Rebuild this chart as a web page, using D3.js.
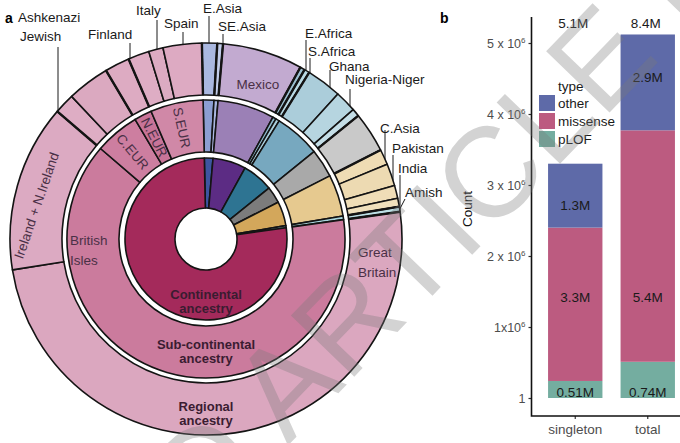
<!DOCTYPE html>
<html>
<head>
<meta charset="utf-8">
<script src="https://cdn.jsdelivr.net/npm/d3@7"></script>
<style>
  body { margin: 0; background: #fff; }
  svg { display: block; font-family: "Liberation Sans", Arial, sans-serif; }
</style>
</head>
<body>
<svg id="chart" width="680" height="443"></svg>
<script>
// ---- panel a: ancestry sunburst, shares are % of the circle ----
let continents = ['E.Asia', 'America', 'Africa', 'C.Asia', 'S.Asia', 'Amish', 'Europe'];

let subContinents = ['E.Asia', 'SE.Asia', 'America', 'E.Africa', 'S.Africa', 'W.Africa',
    'C.Asia', 'S.Asia', 'Amish', 'British Isles', 'C.EUR', 'N.EUR', 'S.EUR'];
let subContinentOf = ['E.Asia', 'E.Asia', 'America', 'Africa', 'Africa', 'Africa',
    'C.Asia', 'S.Asia', 'Amish', 'Europe', 'Europe', 'Europe', 'Europe'];

let regions = ['E.Asia', 'SE.Asia', 'Mexico', 'E.Africa', 'S.Africa', 'Ghana', 'Nigeria-Niger',
    'W.Africa (other)', 'C.Asia', 'Pakistan', 'India', 'Bangladesh', 'Sri Lanka', 'Amish',
    'Great Britain', 'Ireland + N.Ireland', 'Ashkenazi Jewish', 'C.EUR (other)', 'Finland',
    'S.EUR (other)', 'Italy', 'Spain'];
let regionOf = ['E.Asia', 'SE.Asia', 'America', 'E.Africa', 'S.Africa', 'W.Africa', 'W.Africa',
    'W.Africa', 'C.Asia', 'S.Asia', 'S.Asia', 'S.Asia', 'S.Asia', 'Amish',
    'British Isles', 'British Isles', 'C.EUR', 'C.EUR', 'N.EUR',
    'S.EUR', 'S.EUR', 'S.EUR'];
let regionShare = [1.25, 0.47, 6.61, 0.39, 0.44, 2.92, 1.78,
    0.64, 3.33, 1.28, 1.83, 1.06, 0.69, 0.42,
    49.7, 13.8, 1.69, 3.5, 2.06,
    1.75, 1.19, 3.19];

// ---- panel b: stacked counts ----
let barGroups = ['singleton', 'total'];
let variantTypes = ['pLOF', 'missense', 'other'];      // bottom -> top
let pLOFHeight = [0.24e6, 0.51e6];
let missenseHeight = [2.16e6, 3.26e6];
let otherHeight = [0.90e6, 1.35e6];
let pLOFText = ['0.51M', '0.74M'];
let missenseText = ['3.3M', '5.4M'];
let otherText = ['1.3M', '2.9M'];
let totalText = ['5.1M', '8.4M'];
let pLOFTextAt = [0.08e6, 0.08e6];
let missenseTextAt = [1.42e6, 1.42e6];
let otherTextAt = [2.71e6, 4.52e6];
let yTicks = [0, 1e6, 2e6, 3e6, 4e6, 5e6];
let yTickBase = ['1', '1x10', '2 x 10', '3 x 10', '4 x 10', '5 x 10'];

let svg = d3.select('#chart');

// ================= panel a =================
let center = [206, 239];
let ringR = [null, [31, 81], [87, 139], [144, 196]];
let startDeg = -1.2;

let fills = {
    1: { 'E.Asia': '#3d55a0', 'America': '#5c2c84', 'Africa': '#2e7492', 'C.Asia': '#7c7c7c',
         'S.Asia': '#d3a75b', 'Amish': '#8ec8d3', 'Europe': '#a42a5b' },
    2: { 'E.Asia': '#8c9ed2', 'SE.Asia': '#a9b6df', 'America': '#9b80b6', 'E.Africa': '#8db8ca',
         'S.Africa': '#aacfdc', 'W.Africa': '#77a8bf', 'C.Asia': '#a9a9a9', 'S.Asia': '#e6c98f',
         'Amish': '#a9d6de', 'British Isles': '#cb7b9d', 'C.EUR': '#cd7ea0', 'N.EUR': '#c87498',
         'S.EUR': '#d088a7' },
    3: { 'E.Asia': '#aab8e0', 'SE.Asia': '#c3cdea', 'Mexico': '#c2aad0', 'E.Africa': '#9cc0d0',
         'S.Africa': '#b9d9e3', 'Ghana': '#abcdda', 'Nigeria-Niger': '#b6d5e0',
         'W.Africa (other)': '#c4dee7', 'C.Asia': '#c9c9c9', 'Pakistan': '#efdcb4',
         'India': '#eddab2', 'Bangladesh': '#efddb7', 'Sri Lanka': '#f0e0bc', 'Amish': '#bde0e6',
         'Great Britain': '#dba7bf', 'Ireland + N.Ireland': '#dcaac2', 'Ashkenazi Jewish': '#deadc4',
         'C.EUR (other)': '#dba9c0', 'Finland': '#ddabc2', 'S.EUR (other)': '#deadc4',
         'Italy': '#dcabc2', 'Spain': '#ddaac2' }
};

// build the hierarchy from the flat arrays
let tree = { name: 'root', children: continents.map(c => ({ name: c, children: [] })) };
subContinents.forEach((s, i) => {
    tree.children.find(c => c.name === subContinentOf[i]).children.push({ name: s, children: [] });
});
regions.forEach((r, i) => {
    let subs = [].concat(...tree.children.map(c => c.children));
    subs.find(s => s.name === regionOf[i]).children.push({ name: r, value: regionShare[i] });
});

let root = d3.partition().size([2 * Math.PI, 4])(
    d3.hierarchy(tree).sum(d => d.value || 0));
let rot = startDeg * Math.PI / 180;

let arc = d3.arc()
    .startAngle(d => d.x0 + rot)
    .endAngle(d => d.x1 + rot)
    .innerRadius(d => ringR[d.depth][0])
    .outerRadius(d => ringR[d.depth][1]);

let sun = svg.append('g').attr('transform', `translate(${center})`);
sun.selectAll('path')
    .data(root.descendants().filter(d => d.depth > 0))
    .join('path')
        .attr('d', arc)
        .attr('fill', d => fills[d.depth][d.data.name])
        .attr('stroke', '#141414')
        .attr('stroke-width', 1.6)
        .attr('stroke-linejoin', 'round');

let polar = (a, r) => [r * Math.sin(a), -r * Math.cos(a)];

// sub-continent borders look heavier where they cross the outer ring
sun.selectAll('line.border')
    .data(root.descendants().filter(d => d.depth === 2))
    .join('line')
        .attr('class', 'border')
        .attr('x1', d => polar(d.x0 + rot, ringR[3][0])[0])
        .attr('y1', d => polar(d.x0 + rot, ringR[3][0])[1])
        .attr('x2', d => polar(d.x0 + rot, ringR[3][1])[0])
        .attr('y2', d => polar(d.x0 + rot, ringR[3][1])[1])
        .attr('stroke', '#141414')
        .attr('stroke-width', 2.4);

let node = (depth, name) => root.descendants().find(d => d.depth === depth && d.data.name === name);
let midAngle = d => (d.x0 + d.x1) / 2 + rot;

// labels inside the rings
let inRing = [
    { lines: ['British', 'Isles'], x: 70, y: 245, anchor: 'start' },
    { lines: ['Great', 'Britain'], x: 358, y: 257, anchor: 'start' },
    { lines: ['Mexico'], x: 258, y: 89, anchor: 'middle' },
];
inRing.forEach(l => {
    let t = svg.append('text')
        .attr('x', l.x).attr('y', l.y)
        .attr('text-anchor', l.anchor)
        .attr('font-size', 13.5)
        .attr('fill', '#4a3046');
    l.lines.forEach((s, i) => t.append('tspan').attr('x', l.x).attr('dy', i ? 20 : 0).text(s));
});

svg.append('text')
    .attr('transform', `translate(41,207) rotate(-71)`)
    .attr('text-anchor', 'middle')
    .attr('font-size', 13.5)
    .attr('fill', '#4a3046')
    .text('Ireland + N.Ireland');

['C.EUR', 'N.EUR', 'S.EUR'].forEach(name => {
    let d = node(2, name);
    let a = midAngle(d);
    let p = polar(a, 114);
    sun.append('text')
        .attr('transform', `translate(${p}) rotate(${a * 180 / Math.PI - 270})`)
        .attr('text-anchor', 'middle')
        .attr('dy', '0.35em')
        .attr('font-size', 13.5)
        .attr('fill', '#4a3046')
        .text(name);
});

// ring titles
let ringTitles = [
    { lines: ['Continental', 'ancestry'], y: 299 },
    { lines: ['Sub-continental', 'ancestry'], y: 349 },
    { lines: ['Regional', 'ancestry'], y: 411 },
];
ringTitles.forEach(l => {
    let t = svg.append('text')
        .attr('x', center[0]).attr('y', l.y)
        .attr('text-anchor', 'middle')
        .attr('font-size', 13)
        .attr('font-weight', 'bold')
        .attr('fill', '#3a1c31');
    l.lines.forEach((s, i) => t.append('tspan').attr('x', center[0]).attr('dy', i ? 14 : 0).text(s));
});

// outside labels with vertical leaders down to the ring
let outLabels = [
    { region: 'Ashkenazi Jewish', lines: ['Ashkenazi', 'Jewish'], x: 18, y: 22, lx: 58, ly: 47, lineGap: 19, xs: [18, 20] },
    { region: 'Finland', lines: ['Finland'], x: 88, y: 39, lx: 130, ly: 43 },
    { region: 'Italy', lines: ['Italy'], x: 136, y: 15, lx: 157, ly: 20 },
    { region: 'Spain', lines: ['Spain'], x: 164, y: 28, lx: 183, ly: 32 },
    { region: 'E.Asia', lines: ['E.Asia'], x: 203, y: 13, lx: 209, ly: 16 },
    { region: 'SE.Asia', lines: ['SE.Asia'], x: 218, y: 31, lx: 223, ly: 34 },
    { region: 'E.Africa', lines: ['E.Africa'], x: 305, y: 38, lx: 306, ly: 40 },
    { region: 'S.Africa', lines: ['S.Africa'], x: 308, y: 56, lx: 310, ly: 58 },
    { region: 'Ghana', lines: ['Ghana'], x: 329, y: 71, lx: 330, ly: 70 },
    { region: 'Nigeria-Niger', lines: ['Nigeria-Niger'], x: 345, y: 84, lx: 350, ly: 89 },
    { region: 'C.Asia', lines: ['C.Asia'], x: 380, y: 133, lx: 385, ly: 130 },
    { region: 'Pakistan', lines: ['Pakistan'], x: 392, y: 153, lx: 393, ly: 155 },
    { region: 'India', lines: ['India'], x: 398, y: 173, lx: 400, ly: 175 },
    { region: 'Amish', lines: ['Amish'], x: 405, y: 197, lx: 405, ly: 199, toSlice: true },
];
let R = ringR[3][1];
outLabels.forEach(l => {
    let t = svg.append('text')
        .attr('font-size', 13.5)
        .attr('fill', '#1a1a1a');
    l.lines.forEach((s, i) => t.append('tspan')
        .attr('x', l.xs ? l.xs[i] : l.x)
        .attr('y', l.y + i * (l.lineGap || 0))
        .text(s));
    let tip;
    if (l.toSlice) {
        let p = polar(midAngle(node(3, l.region)), R);
        tip = [center[0] + p[0], center[1] + p[1]];
    } else {
        let dx = l.lx - center[0];
        tip = [l.lx, center[1] - Math.sqrt(R * R - dx * dx)];
    }
    svg.append('line')
        .attr('x1', l.lx).attr('y1', l.ly)
        .attr('x2', tip[0]).attr('y2', tip[1])
        .attr('stroke', '#1a1a1a')
        .attr('stroke-width', 1);
});

svg.append('text').attr('x', 5).attr('y', 23)
    .attr('font-size', 14).attr('font-weight', 'bold').text('a');

// ================= panel b =================
let typeColors = { other: '#5e6aa8', missense: '#bc5b80', pLOF: '#74ada0' };
let y = d3.scaleLinear().domain([0, 5e6]).range([398, 43]);
let x = d3.scaleBand().domain(barGroups).range([539, 684]).paddingInner(0.25).paddingOuter(0.125);

let rows = barGroups.map((g, i) => ({
    group: g, pLOF: pLOFHeight[i], missense: missenseHeight[i], other: otherHeight[i]
}));
let series = d3.stack().keys(variantTypes)(rows);

let bars = svg.append('g');
series.forEach(s => {
    bars.selectAll(null)
        .data(s)
        .join('rect')
            .attr('x', d => x(d.data.group))
            .attr('width', x.bandwidth())
            .attr('y', d => y(d[1]))
            .attr('height', d => y(d[0]) - y(d[1]))
            .attr('fill', typeColors[s.key]);
});

let segText = [
    { text: pLOFText, at: pLOFTextAt },
    { text: missenseText, at: missenseTextAt },
    { text: otherText, at: otherTextAt },
];
segText.forEach(st => {
    barGroups.forEach((g, i) => {
        svg.append('text')
            .attr('x', x(g) + x.bandwidth() / 2)
            .attr('y', y(st.at[i]))
            .attr('dy', '0.35em')
            .attr('text-anchor', 'middle')
            .attr('font-size', 13.5)
            .attr('fill', '#1a1a1a')
            .text(st.text[i]);
    });
});
barGroups.forEach((g, i) => {
    svg.append('text')
        .attr('x', x(g) + x.bandwidth() / 2 - 2)
        .attr('y', 28)
        .attr('text-anchor', 'middle')
        .attr('font-size', 13.5)
        .attr('fill', '#1a1a1a')
        .text(totalText[i]);
});

// axes
let axisX = 531.5, axisY = 416;
let yAxis = svg.append('g')
    .attr('transform', `translate(${axisX},0)`)
    .call(d3.axisLeft(y).tickValues(yTicks).tickSize(3).tickPadding(4).tickFormat(''));
yAxis.select('.domain').remove();
yAxis.selectAll('.tick line').attr('stroke', '#333').attr('stroke-width', 1.2);
yAxis.selectAll('.tick').each(function (d, i) {
    let t = d3.select(this).append('text')
        .attr('x', -6)
        .attr('dy', '0.35em')
        .attr('text-anchor', 'end')
        .attr('font-size', 12.5)
        .attr('fill', '#4d4d4d');
    t.append('tspan').text(yTickBase[i]);
    if (i > 0) t.append('tspan').attr('font-size', 8).attr('dy', '-0.55em').text('6');
});

let xAxis = svg.append('g')
    .attr('transform', `translate(0,${axisY})`)
    .call(d3.axisBottom(x).tickSize(3).tickPadding(5));
xAxis.select('.domain').remove();
xAxis.selectAll('.tick line').attr('stroke', '#333').attr('stroke-width', 1.2);
xAxis.selectAll('.tick text')
    .attr('font-size', 13.5)
    .attr('font-family', '"Liberation Sans", Arial, sans-serif')
    .attr('fill', '#4d4d4d');

svg.append('path')
    .attr('d', `M${axisX},17V${axisY}H684`)
    .attr('fill', 'none')
    .attr('stroke', '#111')
    .attr('stroke-width', 1.6);

svg.append('text')
    .attr('transform', 'translate(472,209) rotate(-90)')
    .attr('text-anchor', 'middle')
    .attr('font-size', 13.5)
    .attr('fill', '#111')
    .text('Count');

// legend
let legend = svg.append('g').attr('transform', 'translate(539,79)');
legend.append('text').attr('x', 19).attr('y', 12).attr('font-size', 13.5).attr('fill', '#1a1a1a').text('type');
['other', 'missense', 'pLOF'].forEach((k, i) => {
    legend.append('rect')
        .attr('x', 0).attr('y', 16 + i * 18)
        .attr('width', 16).attr('height', 16)
        .attr('fill', typeColors[k]);
    legend.append('text')
        .attr('x', 19).attr('y', 24 + i * 18)
        .attr('dy', '0.35em')
        .attr('font-size', 13.5)
        .attr('fill', '#1a1a1a')
        .text(k);
});

svg.append('text').attr('x', 440).attr('y', 23)
    .attr('font-size', 14).attr('font-weight', 'bold').text('b');

// watermark over everything
svg.append('text')
    .attr('transform', 'translate(440,288) rotate(-46)')
    .attr('text-anchor', 'middle')
    .attr('font-size', 128)
    .attr('fill', '#7a7a7a')
    .attr('fill-opacity', 0.33)
    .text('ACCEPTED ARTICLE PREVIEW');
</script>
</body>
</html>
